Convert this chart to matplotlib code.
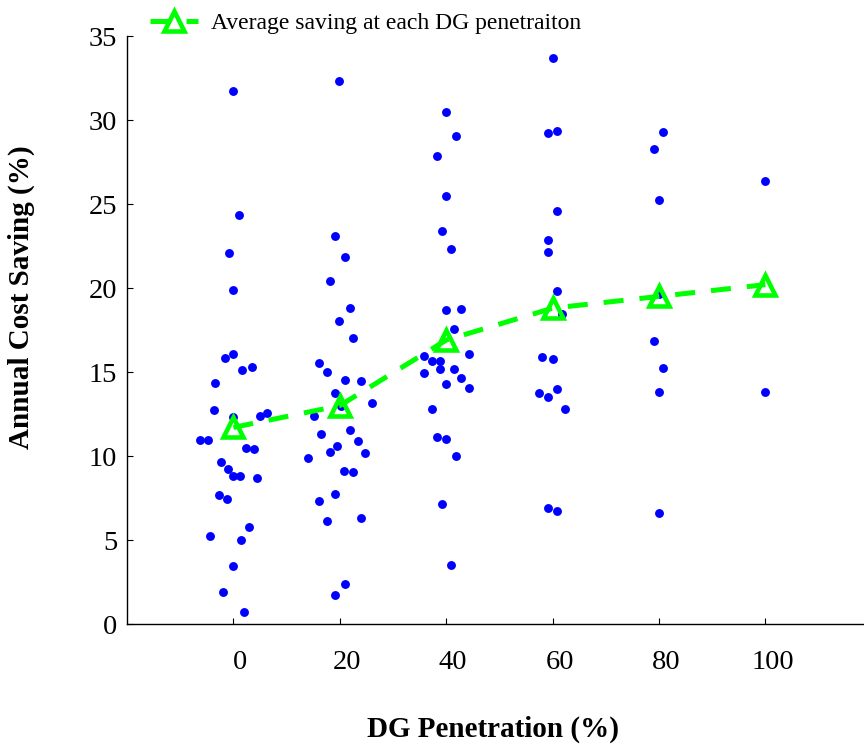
import numpy as np
import matplotlib
matplotlib.use("Agg")
import matplotlib.pyplot as plt
from matplotlib.transforms import ScaledTranslation

plt.rcParams['font.family'] = ['Liberation Serif', 'DejaVu Serif']

# scatter points: DG penetration (%) with small jitter, annual saving (%)
x_pen0 = [-0.1, 1.0, -0.8, -0.1, -1.6, -0.1, 1.7, 3.5, -3.4, -3.7, -0.1, 5.0, 6.4, -6.2, -4.8,
          2.4, 3.8, -2.4, -1.0, -0.1, 1.3, 4.5, -2.8, -1.2, 3.0, -4.4, 1.5, -0.1, -1.9, 2.0]
y_pen0 = [31.75, 24.33, 22.10, 19.86, 15.81, 16.05, 15.09, 15.30, 14.35, 12.73, 12.30, 12.41, 12.53, 10.95, 10.95,
          10.45, 10.40, 9.64, 9.21, 8.79, 8.83, 8.68, 7.68, 7.47, 5.76, 5.25, 5.02, 3.44, 1.88, 0.69]

x_pen20 = [19.9, 19.1, 20.9, 18.1, 21.9, 19.9, 22.4, 16.0, 17.6, 20.9, 24.0, 19.1, 20.3, 26.0, 15.2,
           16.5, 21.9, 23.5, 19.4, 18.1, 24.7, 14.0, 20.8, 22.5, 19.1, 16.0, 17.6, 24.0, 20.9, 19.1]
y_pen20 = [32.32, 23.09, 21.87, 20.40, 18.82, 18.01, 17.04, 15.54, 15.02, 14.54, 14.44, 13.76, 12.96, 13.16, 12.38,
           11.29, 11.57, 10.91, 10.62, 10.26, 10.17, 9.89, 9.13, 9.04, 7.72, 7.33, 6.14, 6.29, 2.4, 1.7]

x_pen40 = [40.0, 41.9, 38.3, 40.0, 39.2, 40.9, 40.0, 42.8, 41.4, 44.2, 35.9, 37.4, 38.9,
           38.9, 41.4, 35.9, 42.8, 40.0, 44.2, 37.4, 38.3, 40.0, 41.9, 39.2, 40.9]
y_pen40 = [30.47, 29.04, 27.85, 25.46, 23.37, 22.34, 18.68, 18.74, 17.57, 16.06, 15.98, 15.66, 15.66,
           15.19, 15.19, 14.93, 14.67, 14.27, 14.07, 12.78, 11.15, 10.99, 10.02, 7.17, 3.54]

x_pen60 = [60.0, 59.1, 60.8, 60.8, 59.1, 59.1, 60.8, 61.8, 58.1, 60.0, 60.8, 57.4, 59.1, 62.4, 59.1, 60.8]
y_pen60 = [33.67, 29.2, 29.34, 24.57, 22.84, 22.12, 19.8, 18.44, 15.92, 15.76, 13.97, 13.77, 13.54, 12.78, 6.88, 6.72]

x_pen80 = [80.7, 79.1, 80.0, 80.0, 79.1, 80.7, 80.0, 80.0]
y_pen80 = [29.28, 28.3, 25.24, 19.64, 16.82, 15.22, 13.83, 6.58]

x_pen100 = [100.0, 100.0]
y_pen100 = [26.36, 13.83]

# average saving at each penetration level
avg_pen = [0, 20, 40, 60, 80, 100]
avg_saving = [11.7, 13.0, 16.9, 18.8, 19.5, 20.2]

fig = plt.figure(figsize=(8.64, 7.45), dpi=100)
ax = fig.add_axes([127 / 864, 121 / 745, 744.8 / 864, 588 / 745])

xs = x_pen0 + x_pen20 + x_pen40 + x_pen60 + x_pen80 + x_pen100
ys = y_pen0 + y_pen20 + y_pen40 + y_pen60 + y_pen80 + y_pen100
ax.plot(xs, ys, 'o', color='#0000FF', markersize=6.4, markeredgewidth=0, zorder=2)

ax.plot(avg_pen, avg_saving, '--^', color='#00FF00', linewidth=3.6, dashes=(4, 3.2),
        markersize=14, markerfacecolor='none', markeredgewidth=3.3, zorder=3,
        label='Average saving at each DG penetraiton')

ax.set_xlim(-20, 120)
ax.set_ylim(0, 35)
ax.set_xticks(np.arange(0, 101, 20))
ax.set_yticks(np.arange(0, 36, 5))

for s in ['top', 'right']:
    ax.spines[s].set_visible(False)
for s in ['left', 'bottom']:
    ax.spines[s].set_linewidth(1.0)

ax.tick_params(axis='both', direction='in', length=4.5, width=0.8, labelsize=20.5)
ax.tick_params(axis='x', pad=19)
ax.tick_params(axis='y', pad=7)
shift = ScaledTranslation(7 / 100, 0, fig.dpi_scale_trans)
for lab in ax.get_xticklabels():
    lab.set_transform(lab.get_transform() + shift)

ax.set_ylabel('Annual Cost Saving (%)', fontsize=21, fontweight='bold', va='center')
ax.yaxis.set_label_coords(-0.142, 0.555)
ax.set_xlabel('DG Penetration (%)', fontsize=21, fontweight='bold', va='center')
ax.xaxis.set_label_coords(0.491, -0.179)

ax.legend(loc='center left', bbox_to_anchor=(150 / 864, 1 - 23 / 745), bbox_transform=fig.transFigure,
          frameon=False, fontsize=17, borderpad=0, borderaxespad=0, handlelength=2.05,
          handletextpad=0.55, numpoints=1)

fig.savefig('out.png', dpi=100)
